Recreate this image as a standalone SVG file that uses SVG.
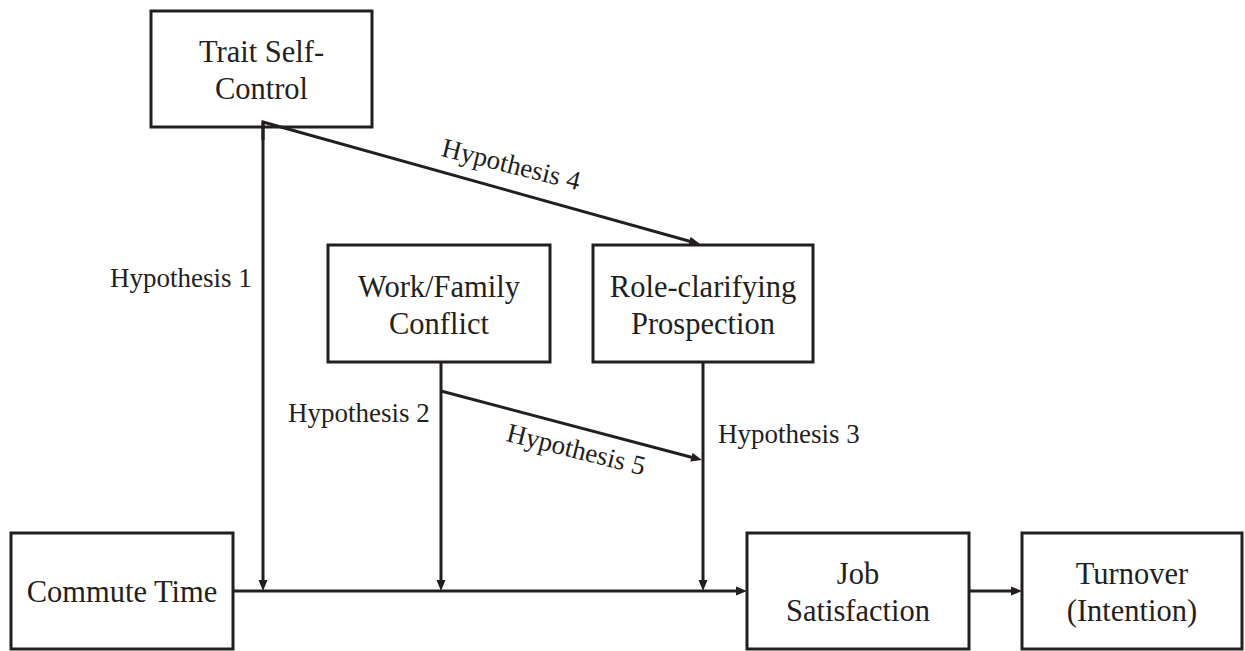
<svg xmlns="http://www.w3.org/2000/svg" width="1245" height="651" viewBox="0 0 1245 651">
  <defs>
    <style>
      .box { fill: #ffffff; stroke: #231f20; stroke-width: 3; }
      .node-text { font-family: "Liberation Serif", "Times New Roman", serif; font-size: 30.5px; fill: #231f20; text-anchor: middle; }
      .label { font-family: "Liberation Serif", "Times New Roman", serif; font-size: 27px; fill: #231f20; }
      .conn { stroke: #231f20; stroke-width: 3; fill: none; stroke-linejoin: miter; }
    </style>
    <marker id="arrow" markerUnits="userSpaceOnUse" markerWidth="11" markerHeight="10" refX="5" refY="5" orient="auto" viewBox="0 0 11 10">
      <path d="M0,0.5 L11,5 L0,9.5 Z" fill="#231f20"/>
    </marker>
  </defs>
  <rect width="1245" height="651" fill="#ffffff"/>

  <g id="trait-self-control">
    <rect class="box" x="151" y="11" width="221" height="116"/>
    <text class="node-text" x="261.5" y="62">Trait Self-</text>
    <text class="node-text" x="261.5" y="99">Control</text>
  </g>

  <g id="work-family-conflict">
    <rect class="box" x="328" y="245" width="222" height="117"/>
    <text class="node-text" x="439" y="297">Work/Family</text>
    <text class="node-text" x="439" y="334">Conflict</text>
  </g>

  <g id="role-clarifying-prospection">
    <rect class="box" x="593" y="245" width="220" height="117"/>
    <text class="node-text" x="703" y="297">Role-clarifying</text>
    <text class="node-text" x="703" y="334">Prospection</text>
  </g>

  <g id="commute-time">
    <rect class="box" x="11" y="533" width="222" height="116"/>
    <text class="node-text" x="122" y="602">Commute Time</text>
  </g>

  <g id="job-satisfaction">
    <rect class="box" x="747" y="533" width="222" height="116"/>
    <text class="node-text" x="858" y="584">Job</text>
    <text class="node-text" x="858" y="621">Satisfaction</text>
  </g>

  <g id="turnover-intention">
    <rect class="box" x="1022" y="533" width="220" height="116"/>
    <text class="node-text" x="1132" y="584">Turnover</text>
    <text class="node-text" x="1132" y="621">(Intention)</text>
  </g>

  <g id="connectors">
    <line class="conn" x1="263" y1="122" x2="263" y2="585" marker-end="url(#arrow)"/>
    <path class="conn" d="M263,140 L263,122 L694.2,242.5" marker-end="url(#arrow)"/>
    <line class="conn" x1="441" y1="362" x2="441" y2="585" marker-end="url(#arrow)"/>
    <line class="conn" x1="441" y1="391" x2="696.2" y2="458.5" marker-end="url(#arrow)"/>
    <line class="conn" x1="703" y1="362" x2="703" y2="585" marker-end="url(#arrow)"/>
    <line class="conn" x1="233" y1="591" x2="741" y2="591" marker-end="url(#arrow)"/>
    <line class="conn" x1="969" y1="591" x2="1016" y2="591" stroke-width="4" marker-end="url(#arrow)"/>
  </g>

  <g id="labels">
    <text class="label" x="110" y="287">Hypothesis 1</text>
    <text class="label" x="288" y="422">Hypothesis 2</text>
    <text class="label" x="718" y="443">Hypothesis 3</text>
    <text class="label" x="509" y="173" text-anchor="middle" transform="rotate(14 509 173)">Hypothesis 4</text>
    <text class="label" x="574" y="458" text-anchor="middle" transform="rotate(14 574 458)">Hypothesis 5</text>
  </g>
</svg>
